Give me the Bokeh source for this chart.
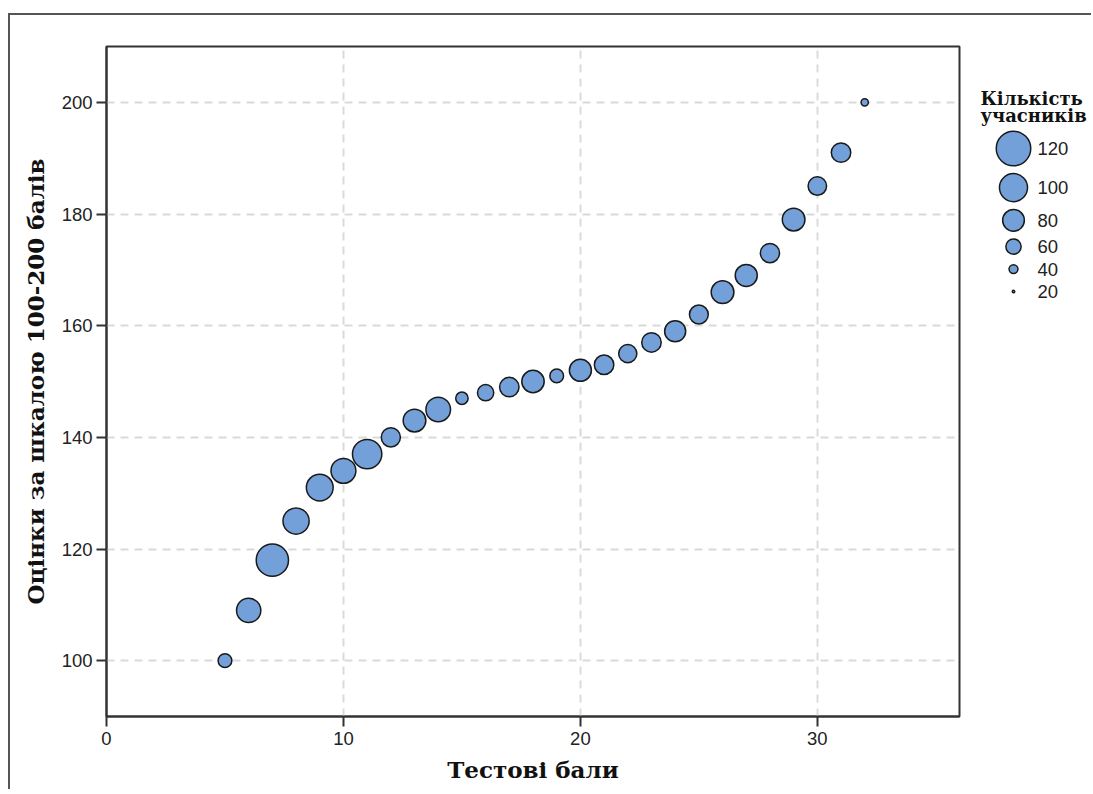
from bokeh.plotting import figure
from bokeh.layouts import row
from bokeh.models import ColumnDataSource, LinearInterpolator, Range1d, SingleIntervalTicker
from bokeh.transform import transform
from bokeh.core.properties import value
from bokeh.embed import file_html
from bokeh.resources import INLINE

# ---------------- data ----------------
test_scores = list(range(5, 33))
scaled_scores = [100, 109, 118, 125, 131, 134, 137, 140, 143, 145,
                 147, 148, 149, 150, 151, 152, 153, 155, 157, 159,
                 162, 166, 169, 173, 179, 185, 191, 200]
participants = [55, 88, 113, 94, 96, 90, 104, 72, 83, 89,
                51, 63, 73, 82, 55, 81, 73, 69, 73, 78,
                71, 83, 81, 72, 83, 70, 73, 35]
legend_values = [120, 100, 80, 60, 40, 20]
legend_labels = [str(v) for v in legend_values]
legend_title = ["Кількість", "учасників"]
x_label = "Тестові бали"
y_label = "Оцінки за шкалою 100-200 балів"

# ---------------- style ----------------
FILL = "#73a0d8"
EDGE = "#1a1a1a"
AX = "#333333"
GRID = "#dadada"
TICK_FONT = "Liberation Sans"
TITLE_FONT = "DejaVu Serif"

size_map = LinearInterpolator(x=[20, 120], y=[2.5, 34.5])

FIG_H = 774
B_TOP, B_BOT = 31, 73
FRAME_H = FIG_H - B_TOP - B_BOT

p = figure(width=954, height=FIG_H, x_range=Range1d(0, 36), y_range=Range1d(90, 210),
           output_backend="svg", toolbar_location=None,
           min_border_left=96, min_border_right=5, min_border_top=B_TOP, min_border_bottom=B_BOT)
p.background_fill_color = "white"
p.border_fill_color = "white"
p.outline_line_color = AX
p.outline_line_width = 2

src = ColumnDataSource(dict(x=test_scores, y=scaled_scores, n=participants))
p.scatter("x", "y", source=src, size=transform("n", size_map),
          fill_color=FILL, line_color=EDGE, line_width=1.5)

p.xaxis.ticker = SingleIntervalTicker(interval=10)
p.yaxis.ticker = SingleIntervalTicker(interval=20)
for ax in (p.xaxis, p.yaxis):
    ax.axis_line_color = AX
    ax.axis_line_width = 2
    ax.major_tick_line_color = AX
    ax.major_tick_line_width = 2
    ax.major_tick_out = 10
    ax.major_tick_in = 0
    ax.minor_tick_line_color = None
    ax.major_label_text_font = TICK_FONT
    ax.major_label_text_font_size = "18.5px"
    ax.major_label_text_color = "#222222"
    ax.axis_label_text_font = TITLE_FONT
    ax.axis_label_text_font_style = "bold"
    ax.axis_label_text_font_size = "23px"
    ax.axis_label_text_color = "#111111"
p.xaxis.major_label_standoff = 5
p.yaxis.major_label_standoff = 4
p.xaxis.axis_label = x_label
p.yaxis.axis_label = y_label
p.xaxis.axis_label_standoff = 8
p.yaxis.axis_label_standoff = 10

for g in (p.xgrid, p.ygrid):
    g.grid_line_color = GRID
    g.grid_line_width = 2
    g.grid_line_dash = "8 6"
p.xgrid.ticker = SingleIntervalTicker(interval=10)
p.ygrid.ticker = SingleIntervalTicker(interval=20)

# ---------------- legend (separate panel, frame aligned with the plot frame) ----------------
LEG_W = 127
leg = figure(width=LEG_W, height=FIG_H, x_range=Range1d(0, LEG_W), y_range=Range1d(FRAME_H, 0),
             x_axis_type=None, y_axis_type=None, output_backend="svg", toolbar_location=None,
             min_border_left=0, min_border_right=0, min_border_top=B_TOP, min_border_bottom=B_BOT)
leg.outline_line_color = None
leg.grid.visible = False
leg.background_fill_color = "white"
leg.border_fill_color = "white"


def outer_d(v):
    return 2.5 + (v - 20) * 32.0 / 100 + 1.5


ys = []
y = 102.0
for i, v in enumerate(legend_values):
    if i > 0:
        y += max(22.5, (outer_d(legend_values[i - 1]) + outer_d(v)) / 2 + 6.3)
    ys.append(y)

lsrc = ColumnDataSource(dict(x=[49] * len(legend_values), y=ys, n=legend_values,
                             tx=[73] * len(legend_values), label=legend_labels))
leg.scatter("x", "y", source=lsrc, size=transform("n", size_map),
            fill_color=FILL, line_color=EDGE, line_width=1.5)
leg.text("tx", "y", text="label", source=lsrc, text_font=value(TICK_FONT),
         text_font_size="18.5px", text_baseline="middle", text_align="left", text_color="#222222")
leg.text(x=[16, 16], y=[ys[0] - 50, ys[0] - 33], text=legend_title, text_font=value(TITLE_FONT),
         text_font_style="bold", text_font_size="18px", text_baseline="middle",
         text_align="left", text_color="#111111")

layout = row(p, leg, spacing=0, margin=(13, 0, 0, 8),
             styles={"border-top": "2px solid #555555", "border-left": "2px solid #555555"})

open("out.html", "w").write(file_html(layout, INLINE))
